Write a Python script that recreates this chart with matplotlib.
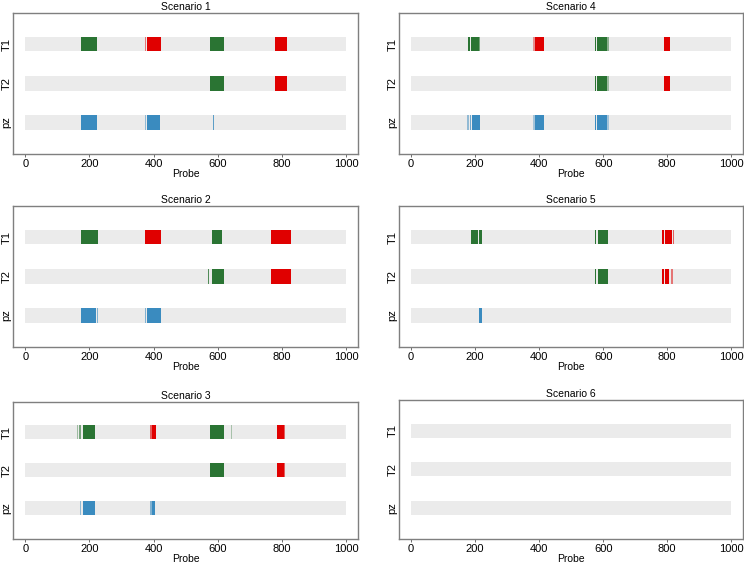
import matplotlib
matplotlib.use("Agg")
import matplotlib.pyplot as plt

plt.rcParams['font.family'] = ['Liberation Sans', 'DejaVu Sans']

tracks = ["T1", "T2", "pz"]
probe_max = 1000
xticks = [0, 200, 400, 600, 800, 1000]

# segments per scenario and track: (start, end, strength), kind "gain"/"loss"/"pz"
scen1 = {
    "T1": [(173, 224, 1.0, "gain"), (373, 377, 0.5, "loss"), (378, 424, 1.0, "loss"),
           (575, 619, 1.0, "gain"), (779, 817, 1.0, "loss")],
    "T2": [(575, 619, 1.0, "gain"), (779, 815, 1.0, "loss")],
    "pz": [(173, 224, 1.0, "pz"), (373, 377, 0.5, "pz"), (378, 420, 1.0, "pz"),
           (586, 589, 0.8, "pz")],
}
scen2 = {
    "T1": [(173, 226, 1.0, "gain"), (373, 424, 1.0, "loss"), (583, 612, 1.0, "gain"),
           (767, 828, 1.0, "loss")],
    "T2": [(570, 572, 0.8, "gain"), (583, 618, 1.0, "gain"), (767, 828, 1.0, "loss")],
    "pz": [(173, 221, 1.0, "pz"), (224, 227, 0.6, "pz"), (373, 377, 0.6, "pz"),
           (379, 424, 1.0, "pz")],
}
scen3 = {
    "T1": [(161, 165, 0.4, "gain"), (169, 174, 0.6, "gain"), (181, 217, 1.0, "gain"),
           (388, 394, 0.6, "loss"), (395, 407, 1.0, "loss"), (575, 619, 1.0, "gain"),
           (640, 644, 0.35, "gain"), (784, 806, 1.0, "loss"), (806, 810, 0.6, "loss")],
    "T2": [(575, 619, 1.0, "gain"), (784, 806, 1.0, "loss"), (806, 810, 0.6, "loss")],
    "pz": [(171, 174, 0.5, "pz"), (181, 217, 1.0, "pz"), (388, 394, 0.6, "pz"),
           (394, 405, 1.0, "pz")],
}
scen4 = {
    "T1": [(173, 176, 0.5, "gain"), (177, 183, 1.0, "gain"), (186, 211, 1.0, "gain"),
           (211, 214, 0.6, "gain"), (380, 387, 0.4, "loss"), (387, 415, 1.0, "loss"),
           (576, 579, 1.0, "gain"), (581, 612, 1.0, "gain"), (612, 618, 0.5, "gain"),
           (790, 809, 1.0, "loss")],
    "T2": [(576, 579, 1.0, "gain"), (582, 612, 1.0, "gain"), (612, 618, 0.4, "gain"),
           (790, 809, 1.0, "loss")],
    "pz": [(173, 181, 0.5, "pz"), (183, 188, 0.7, "pz"), (190, 214, 1.0, "pz"),
           (380, 387, 0.4, "pz"), (387, 415, 1.0, "pz"), (576, 579, 1.0, "pz"),
           (581, 612, 1.0, "pz"), (612, 618, 0.4, "pz")],
}
scen5 = {
    "T1": [(186, 209, 1.0, "gain"), (212, 220, 1.0, "gain"), (576, 579, 1.0, "gain"),
           (583, 614, 1.0, "gain"), (783, 789, 1.0, "loss"), (793, 816, 1.0, "loss"),
           (818, 821, 0.6, "loss")],
    "T2": [(576, 579, 1.0, "gain"), (583, 614, 1.0, "gain"), (783, 789, 1.0, "loss"),
           (793, 807, 1.0, "loss"), (811, 817, 0.5, "loss")],
    "pz": [(212, 220, 1.0, "pz")],
}
scen6 = {"T1": [], "T2": [], "pz": []}

scenarios = [scen1, scen2, scen3, scen4, scen5, scen6]
titles = ["Scenario 1", "Scenario 2", "Scenario 3", "Scenario 4", "Scenario 5", "Scenario 6"]

colors = {"gain": "#2a7433", "loss": "#e00000", "pz": "#3a8bbf"}

# axes boxes in pixels: (left, top, right, bottom)
W, H = 744, 563
boxes = [
    (13, 13, 358, 154), (13, 206, 358, 347), (13, 402, 358, 539),
    (399, 13, 743, 154), (399, 206, 743, 347), (399, 400, 743, 539),
]

fig = plt.figure(figsize=(W / 100, H / 100), dpi=100)

for scen, title, (x0, y0, x1, y1) in zip(scenarios, titles, boxes):
    ax = fig.add_axes([x0 / W, 1 - y1 / H, (x1 - x0) / W, (y1 - y0) / H])
    for i, tr in enumerate(tracks):
        y = len(tracks) - i
        ax.barh(y, probe_max, left=0, height=0.37, color="#ebebeb", linewidth=0)
        for start, end, strength, kind in scen[tr]:
            ax.barh(y, end - start, left=start, height=0.37, color=colors[kind],
                    alpha=strength, linewidth=0)
    ax.set_xlim(-38, 1037)
    ax.set_ylim(0.19, 3.8)
    ax.set_yticks([3, 2, 1])
    ax.set_yticklabels(tracks, rotation=90, va="center", fontsize=8)
    ax.set_xticks(xticks)
    ax.set_xticklabels([str(t) for t in xticks], fontsize=8)
    ax.tick_params(axis="x", length=2.5, width=0.6, color="#555555", pad=1)
    ax.tick_params(axis="y", length=0, pad=1)
    for sp in ax.spines.values():
        sp.set_color("#7f7f7f")
        sp.set_linewidth(1.0)
    ax.set_xlabel("Probe", fontsize=7.5, labelpad=0)
    ax.set_title(title, fontsize=7.5, pad=2)

fig.savefig("out.png", dpi=100)
